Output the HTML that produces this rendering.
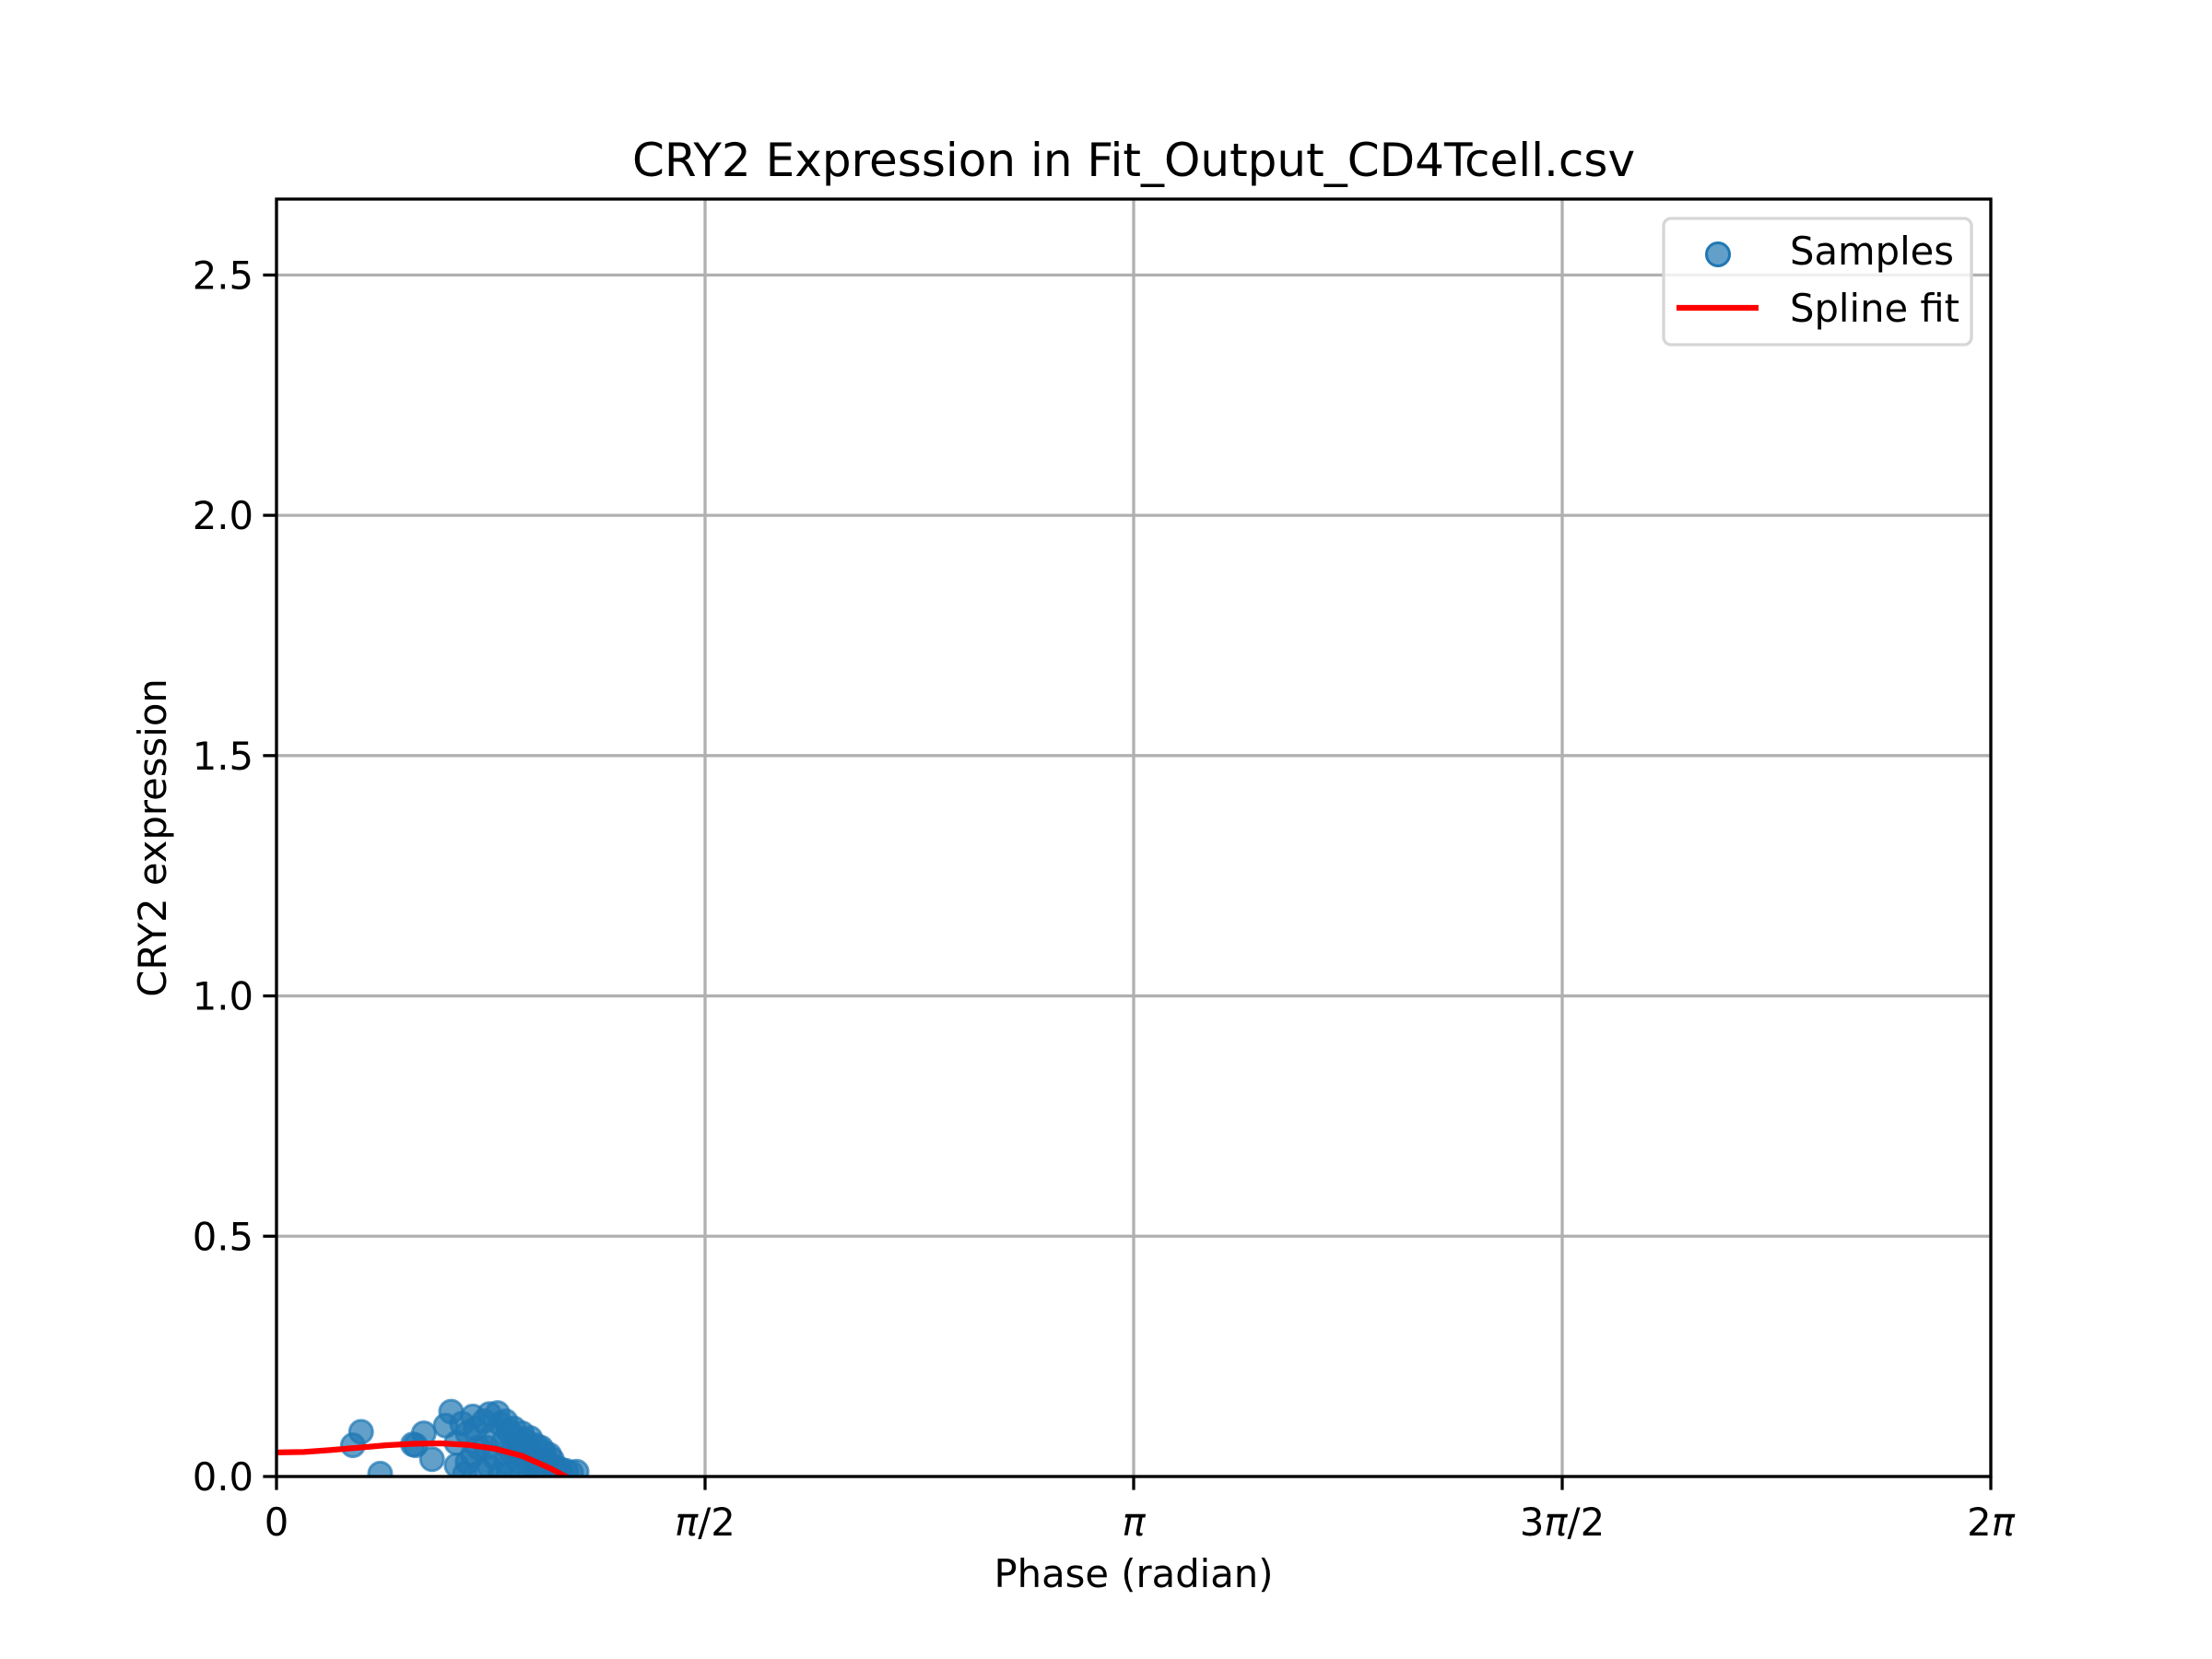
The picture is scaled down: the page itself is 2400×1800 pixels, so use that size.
<!DOCTYPE html>
<html><head><meta charset="utf-8"><style>
html,body{margin:0;padding:0;background:#fff;}
svg{display:block;font-family:"DejaVu Sans","Liberation Sans",sans-serif;}
</style></head><body>
<svg id="chart" width="2400" height="1800" viewBox="0 0 2400 1800">
<defs><clipPath id="plotclip"><rect x="300" y="216" width="1860" height="1386"/></clipPath></defs>
<rect width="2400" height="1800" fill="#fff"/>
<g id="grid"></g>
<g id="points" clip-path="url(#plotclip)"></g>
<g id="curve" clip-path="url(#plotclip)"></g>
<g id="axes"></g>
<text x="1230" y="191" font-size="50" text-anchor="middle">CRY2 Expression in Fit_Output_CD4Tcell.csv</text>
<text x="1230" y="1722" font-size="41.7" text-anchor="middle">Phase (radian)</text>
<text x="180" y="909" font-size="41.7" text-anchor="middle" transform="rotate(-90 180 909)">CRY2 expression</text>
<g>
<rect x="1805" y="237" width="334" height="137" rx="8" fill="#fff" fill-opacity="0.8" stroke="#d6d6d6" stroke-width="3.3"/>
<circle cx="1864" cy="276" r="12.5" fill="#1f77b4" fill-opacity="0.7" stroke="#1f77b4" stroke-width="3"/>
<text x="1942" y="287" font-size="41.7">Samples</text>
<line x1="1819" y1="334" x2="1908" y2="334" stroke="#ff0000" stroke-width="6.25"/>
<text x="1942" y="349" font-size="41.7">Spline fit</text>
</g>
</svg>
<script>
const xTicks = [0, Math.PI/2, Math.PI, 3*Math.PI/2, 2*Math.PI];
const xTickLabels = ["0", "π/2", "π", "3π/2", "2π"];
const yTicks = [0, 0.5, 1.0, 1.5, 2.0, 2.5];
const yTickLabels = ["0.0", "0.5", "1.0", "1.5", "2.0", "2.5"];
const samplePhase = [0.28,0.31,0.38,0.50,0.51,0.54,0.57,0.62,0.64,0.66,0.68,0.70,0.72,0.73,0.74,0.76,0.78,0.79,0.81,0.82,0.83,0.84,0.85,0.86,0.87,0.88,0.89,0.90,0.91,0.92,0.93,0.94,0.95,0.96,0.97,0.98,0.99,1.00,1.01,1.02,1.04,1.06,1.08,1.10,0.70,0.75,0.80,0.85,0.90,0.95,0.66,0.72,0.78,0.84,0.88,0.93,0.69,0.77,0.82,0.87,0.92,0.97];
const sampleValue = [0.065,0.093,0.006,0.067,0.065,0.090,0.036,0.106,0.135,0.023,0.110,0.090,0.125,0.100,0.060,0.115,0.130,0.085,0.132,0.110,0.070,0.115,0.095,0.050,0.100,0.080,0.030,0.090,0.075,0.060,0.080,0.045,0.065,0.020,0.060,0.050,0.030,0.045,0.035,0.020,0.015,0.012,0.008,0.010,0.030,0.010,0.040,0.005,0.015,0.008,0.070,0.045,0.020,0.030,0.050,0.025,0.005,0.060,0.005,0.065,0.040,0.015];
const splinePhase = [0,0.1,0.2,0.3,0.4,0.5,0.6,0.7,0.8,0.9,1.0,1.06,1.12];
const splineValue = [0.050,0.051,0.055,0.060,0.065,0.068,0.069,0.066,0.058,0.043,0.018,0.0,-0.02];

const X0=300,X1=2160,Y0=1602,Y1=216,XMAX=2*Math.PI,YMAX=2.658;
function sx(v){return X0+(v/XMAX)*(X1-X0);}
function sy(v){return Y0-(v/YMAX)*(Y0-Y1);}
const NS="http://www.w3.org/2000/svg";
function mk(tag,attrs,parent){const e=document.createElementNS(NS,tag);for(const k in attrs)e.setAttribute(k,attrs[k]);parent.appendChild(e);return e;}
const grid=document.getElementById('grid'),axes=document.getElementById('axes');
xTicks.forEach((t,i)=>{
  const g=mk('line',{x1:sx(t),x2:sx(t),y1:Y1,y2:Y0,stroke:'#b0b0b0','stroke-width':3.3},grid);
  
  
  const tk=mk('line',{x1:sx(t),x2:sx(t),y1:Y0,y2:Y0+14.6,stroke:'#000','stroke-width':3.3},axes);
  
  
  const tx=mk('text',{x:sx(t),y:Y0+64,'font-size':41.7,'text-anchor':'middle'},axes);
  xTickLabels[i].split(/(π)/).forEach(part=>{
    if(!part)return;
    const ts=mk('tspan',{},tx);
    if(part==='π')ts.setAttribute('font-style','italic');
    ts.textContent=part;
  });
  
  
});
yTicks.forEach((t,i)=>{
  const g=mk('line',{x1:X0,x2:X1,y1:sy(t),y2:sy(t),stroke:'#b0b0b0','stroke-width':3.3},grid);
  
  
  const tk=mk('line',{x1:X0-14.6,x2:X0,y1:sy(t),y2:sy(t),stroke:'#000','stroke-width':3.3},axes);
  
  
  const tx=mk('text',{x:X0-25,y:sy(t)+15,'font-size':41.7,'text-anchor':'end'},axes);
  tx.textContent=yTickLabels[i];
  
  
});
const frame=mk('rect',{x:X0,y:Y1,width:X1-X0,height:Y0-Y1,fill:'none',stroke:'#000','stroke-width':3.3},axes);


const pts=document.getElementById('points');
samplePhase.forEach((p,i)=>{
  const c=mk('circle',{cx:sx(p),cy:sy(sampleValue[i]),r:12.5,fill:'#1f77b4','fill-opacity':0.7,stroke:'#1f77b4','stroke-opacity':0.7,'stroke-width':3},pts);
  
  
});
const d=splinePhase.map((p,i)=>(i?'L':'M')+sx(p).toFixed(1)+','+sy(splineValue[i]).toFixed(1)).join(' ');
const path=mk('path',{d:d,fill:'none',stroke:'#ff0000','stroke-width':6.25,'stroke-linejoin':'round'},document.getElementById('curve'));


</script>
</body></html>
